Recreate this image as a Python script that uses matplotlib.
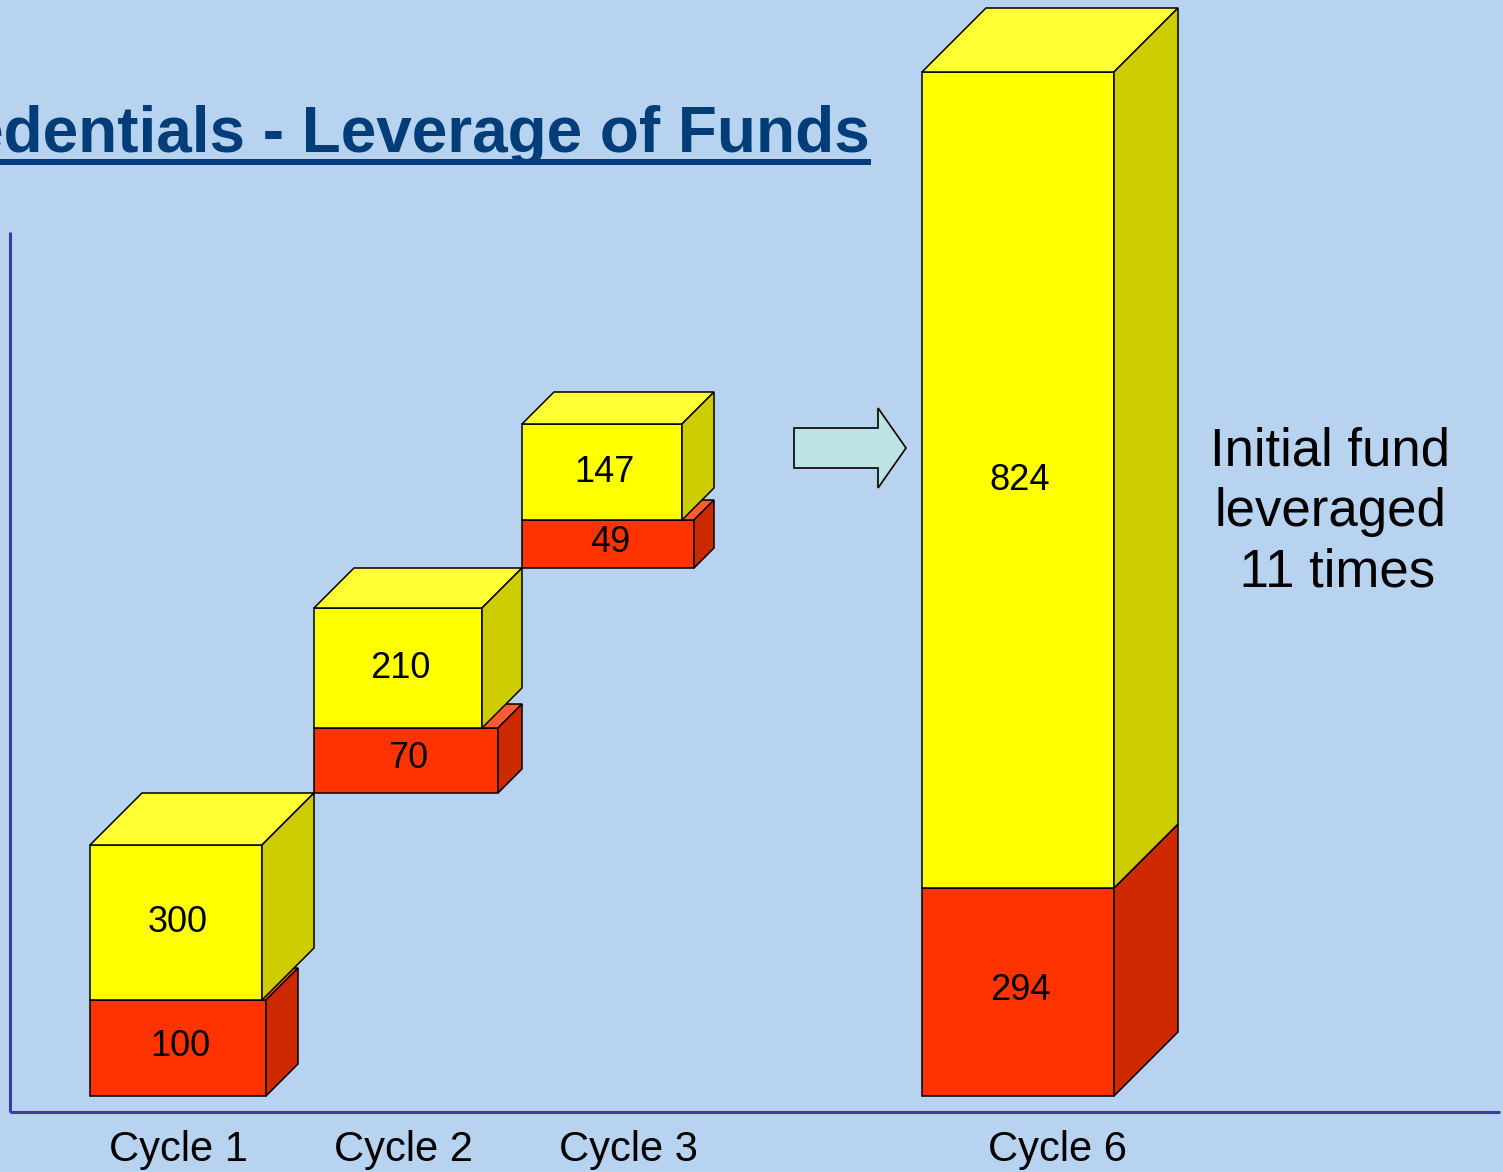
import matplotlib
matplotlib.use("Agg")
import matplotlib.pyplot as plt
from matplotlib.patches import Rectangle, Polygon, FancyArrow

plt.rcParams["font.family"] = ["Liberation Sans", "DejaVu Sans"]

# values shown on the blocks
cycles = ["Cycle 1", "Cycle 2", "Cycle 3", "Cycle 6"]
reinvested = [100, 70, 49, 294]      # red blocks
leveraged = [300, 210, 147, 824]     # yellow blocks

# block heights as drawn in the picture (not to scale with the values)
red_drawn = [96, 65, 48, 208]
yellow_drawn = [155, 120, 96, 816]

# layout
bar_left = [90, 314, 522, 922]
red_width = [176, 184, 172, 192]
yellow_width = [172, 168, 160, 192]
red_depth = [32, 24, 20, 64]
yellow_depth = [52, 40, 32, 64]
stepped = [True, True, True, False]   # cycles 1-3 climb like stairs
label_x = [178, 404, 628, 1058]

BG = "#B7D3F0"
YELLOW = ("#FFFF00", "#FFFF33", "#CCCC00")
RED = ("#FF3300", "#FF5C33", "#CC2900")


def box(ax, x, y0, w, h, d, colors):
    front, top, side = colors
    kw = dict(ec="black", lw=1.1, joinstyle="miter")
    ax.add_patch(Rectangle((x, y0), w, h, fc=front, **kw))
    ax.add_patch(Polygon([(x, y0 + h), (x + w, y0 + h),
                          (x + w + d, y0 + h + d), (x + d, y0 + h + d)],
                         closed=True, fc=top, **kw))
    ax.add_patch(Polygon([(x + w, y0), (x + w + d, y0 + d),
                          (x + w + d, y0 + h + d), (x + w, y0 + h)],
                         closed=True, fc=side, **kw))


fig = plt.figure(figsize=(15.03, 11.72), dpi=100)
fig.patch.set_facecolor(BG)
ax = fig.add_axes([0, 0, 1, 1])
ax.set_xlim(0, 1503)
ax.set_ylim(-76, 1096)
ax.axis("off")

# axes lines
ax.plot([10, 10], [864, -16], color="#3C3CA8", lw=2.2, solid_capstyle="butt")
ax.plot([10, 1500], [-16, -16], color="#3C3CA8", lw=2.2, solid_capstyle="butt")

base = 0
for i in range(len(cycles)):
    if not stepped[i]:
        base = 0
    x = bar_left[i]
    box(ax, x, base, red_width[i], red_drawn[i], red_depth[i], RED)
    ytop = base + red_drawn[i]
    box(ax, x, ytop, yellow_width[i], yellow_drawn[i], yellow_depth[i], YELLOW)
    ax.text(x + red_width[i] / 2 + 2, base + red_drawn[i] / 2 + 2, str(reinvested[i]),
            ha="center", va="center", fontsize=26)
    ax.text(x + yellow_width[i] / 2 + 2, ytop + yellow_drawn[i] / 2, str(leveraged[i]),
            ha="center", va="center", fontsize=26)
    ax.text(label_x[i], -54, cycles[i], ha="center", va="center", fontsize=30)
    base = ytop + yellow_drawn[i] + yellow_depth[i]

# arrow between cycle 3 and cycle 6
ax.add_patch(FancyArrow(794, 648, 112, 0, width=40, head_width=80, head_length=28,
                        length_includes_head=True, fc="#BDE3E3", ec="black", lw=1.2))

ax.text(1330, 584, "Initial fund\nleveraged\n 11 times", ha="center", va="center",
        multialignment="center", fontsize=38, linespacing=1.28)

# title, cut off at the left edge as in the slide
ax.text(870, 944, "Credentials - Leverage of Funds", ha="right", va="baseline",
        fontsize=46, fontweight="bold", color="#003D79")
ax.plot([0, 871], [934, 934], color="#003D79", lw=4.3, solid_capstyle="butt")

fig.savefig("out.png", dpi=100, facecolor=BG)
plt.close(fig)
